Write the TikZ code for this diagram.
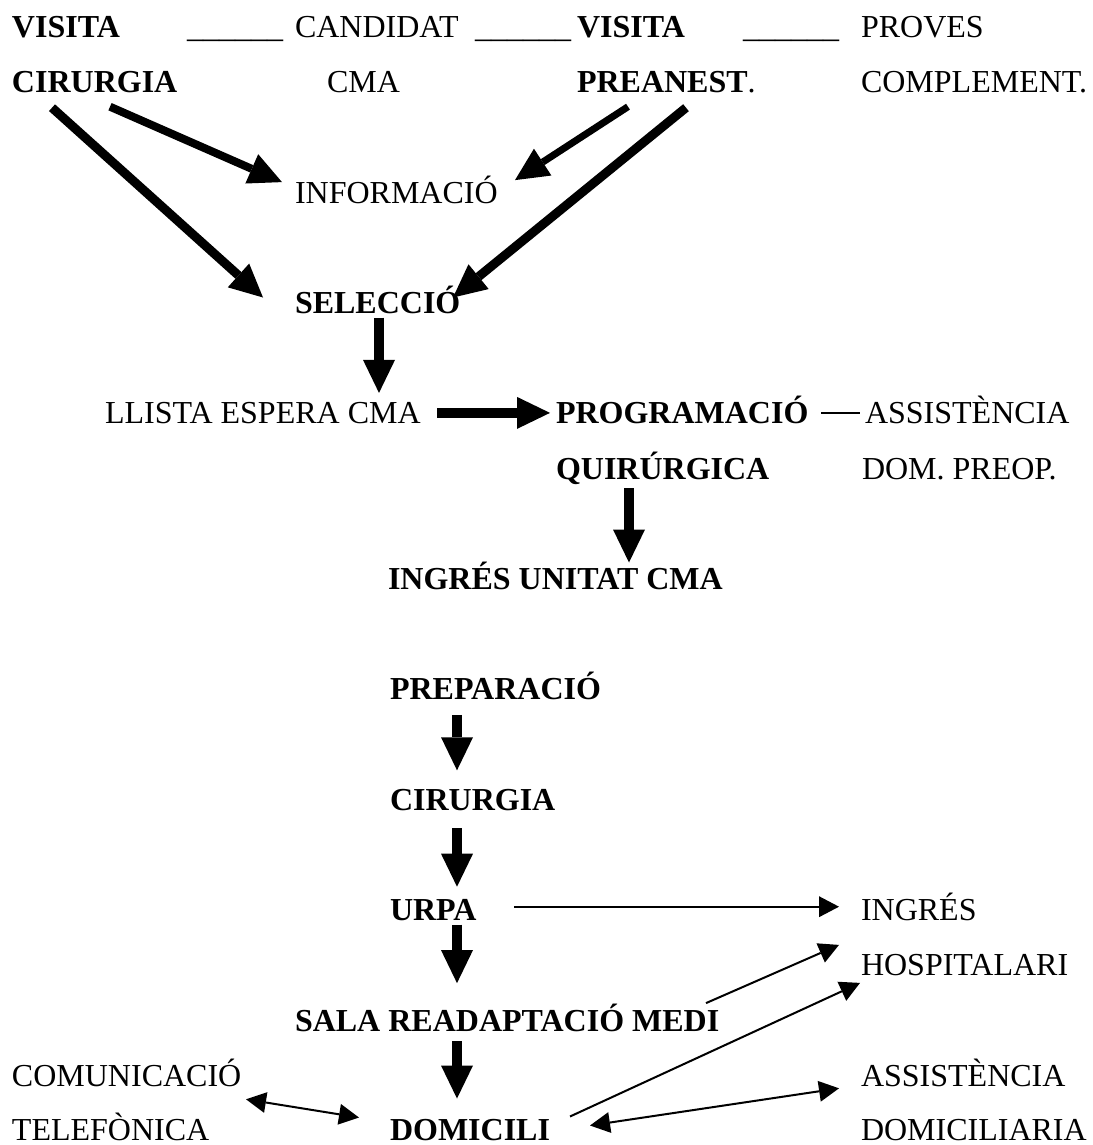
\documentclass[tikz,border=0pt]{standalone}
\usepackage{fontspec}
\setmainfont{Liberation Serif}
\usetikzlibrary{arrows.meta}
\tikzset{
  txt/.style={anchor=base west, inner sep=0pt, outer sep=0pt, font=\fontsize{32}{38}\selectfont},
  btxt/.style={txt, font=\fontsize{32}{38}\selectfont\bfseries},
  bigarrow/.style={line width=#1, -{Triangle[length=33pt,width=32pt,line width=0pt]}},
  bigarrow/.default=9pt,
  thinarrow/.style={line width=2pt, -{Triangle[length=20pt,width=21pt,line width=0pt]}},
  dblarrow/.style={line width=2pt, {Triangle[length=20pt,width=21pt,line width=0pt]}-{Triangle[length=20pt,width=21pt,line width=0pt]}},
  plainline/.style={line width=2pt}
}
\begin{document}
\begin{tikzpicture}[x=1pt,y=-1pt]
\useasboundingbox[fill=white] (0,0) rectangle (1092,1145);
% row 0
\node[btxt] (vis1) at (12,37.5) {VISITA};
\node[txt] (us1) at (187,37.5) {\_\_\_\_\_\_};
\node[txt] (cand) at (295,37.5) {CANDIDAT};
\node[txt] (us2) at (475,37.5) {\_\_\_\_\_\_};
\node[btxt] (vis2) at (577,37.5) {VISITA};
\node[txt] (us3) at (743,37.5) {\_\_\_\_\_\_};
\node[txt] (prov) at (861,37.5) {PROVES};
% row 1
\node[btxt] (cir1) at (12,92.7) {CIRURGIA};
\node[txt] (cma) at (327,92.7) {CMA};
\node[txt] (pre) at (577,92.7) {\textbf{PREANEST}.};
\node[txt] (compl) at (861,92.7) {COMPLEMENT.};
% rows 3..10
\node[txt] (inf) at (295,203.1) {INFORMACIÓ};
\node[btxt] (sel) at (295,313.5) {SELECCIÓ};
\node[txt] (llis) at (105,423.9) {LLISTA ESPERA CMA};
\node[btxt] (prog) at (556,423.9) {PROGRAMACIÓ};
\node[txt] (assist1) at (865,423.9) {ASSISTÈNCIA};
\node[btxt] (quir) at (556,479.1) {QUIRÚRGICA};
\node[txt] (dompre) at (862,479.1) {DOM. PREOP.};
\node[btxt] (ingu) at (388,589.5) {INGRÉS UNITAT CMA};
% lower part
\node[btxt] (prep) at (390,699.9) {PREPARACIÓ};
\node[btxt] (cir2) at (390,810.3) {CIRURGIA};
\node[btxt] (urpa) at (390,920.7) {URPA};
\node[txt] (ingr) at (861,920.7) {INGRÉS};
\node[txt] (hosp) at (861,975.9) {HOSPITALARI};
\node[btxt] (sala) at (295,1031.1) {SALA READAPTACIÓ MEDI};
\node[txt] (com) at (12,1086.3) {COMUNICACIÓ};
\node[txt] (assist2) at (861,1086.3) {ASSISTÈNCIA};
\node[txt] (tel) at (12,1140.5) {TELEFÒNICA};
\node[btxt] (dom) at (390,1140.5) {DOMICILI};
\node[txt] (domic) at (861,1140.5) {DOMICILIARIA};
% thick arrows
\draw[bigarrow=8pt] ([shift={(98,14)}]cir1.base west) -- ([shift={(-13,-21)}]inf.base west);
\draw[bigarrow=9pt] ([shift={(40,15)}]cir1.base west) -- ([shift={(-32,-16)}]sel.base west);
\draw[bigarrow=7pt] ([shift={(51,14)}]pre.base west) -- ([shift={(220,-23)}]inf.base west);
\draw[bigarrow=9pt] ([shift={(109,15)}]pre.base west) -- ([shift={(158,-16)}]sel.base west);
\draw[bigarrow=10pt] ([shift={(84,4)}]sel.base west) -- ([shift={(274,-31)}]llis.base west);
\draw[bigarrow=10pt] ([shift={(332,-11)}]llis.base west) -- ([shift={(-6,-11)}]prog.base west);
\draw[plainline] ([shift={(265,-11)}]prog.base west) -- ([shift={(-5,-11)}]assist1.base west);
\draw[bigarrow=10pt] ([shift={(73,9)}]quir.base west) -- ([shift={(241,-27)}]ingu.base west);
\draw[bigarrow=10pt] ([shift={(67,15)}]prep.base west) -- ([shift={(67,-40)}]cir2.base west);
\draw[bigarrow=10pt] ([shift={(67,18)}]cir2.base west) -- ([shift={(67,-34)}]urpa.base west);
\draw[bigarrow=10pt] ([shift={(67,4)}]urpa.base west) -- ([shift={(162,-48)}]sala.base west);
\draw[bigarrow=10pt] ([shift={(162,10)}]sala.base west) -- ([shift={(67,-42)}]dom.base west);
% thin arrows
\draw[thinarrow] ([shift={(124,-14)}]urpa.base west) -- ([shift={(-22,-14)}]ingr.base west);
\draw[thinarrow] ([shift={(411,-28)}]sala.base west) -- ([shift={(-22,-31)}]hosp.base west);
\draw[thinarrow] ([shift={(180,-24)}]dom.base west) -- ([shift={(-1,7)}]hosp.base west);
\draw[dblarrow] ([shift={(234,13)}]com.base west) -- ([shift={(-31,-23)}]dom.base west);
\draw[dblarrow] ([shift={(200,-15)}]dom.base west) -- ([shift={(-22,2)}]assist2.base west);
\end{tikzpicture}
\end{document}
